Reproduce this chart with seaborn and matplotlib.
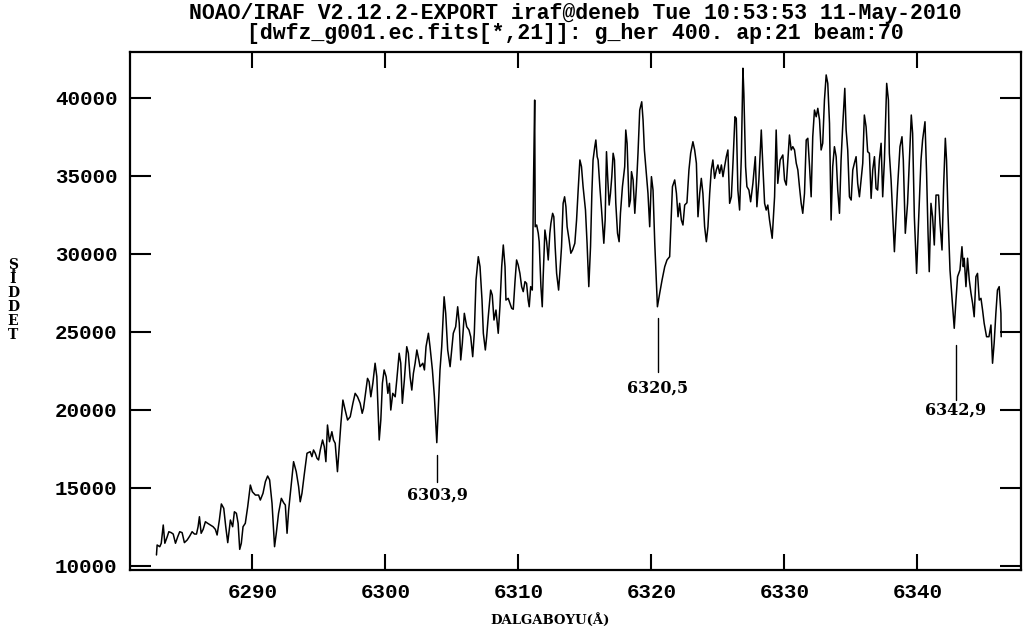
import matplotlib
matplotlib.use("Agg")
import matplotlib.pyplot as plt
import seaborn as sns
import pandas as pd

# Extracted echelle order: wavelength (Angstrom) and counts
wavelength = [
    6282.79, 6282.84, 6283.04, 6283.15, 6283.30, 6283.42, 6283.60, 6283.72, 6283.90, 6284.05,
    6284.22, 6284.39, 6284.54, 6284.72, 6284.89, 6285.10, 6285.29, 6285.47, 6285.65, 6285.80,
    6285.92, 6286.02, 6286.15, 6286.30, 6286.47, 6286.64, 6286.85, 6287.05, 6287.22, 6287.35,
    6287.52, 6287.67, 6287.85, 6288.00, 6288.15, 6288.35, 6288.52, 6288.65, 6288.80, 6288.93,
    6289.05, 6289.17, 6289.30, 6289.47, 6289.65, 6289.85, 6290.00, 6290.23, 6290.47, 6290.60,
    6290.80, 6290.98, 6291.15, 6291.30, 6291.48, 6291.67, 6291.80, 6291.97, 6292.18, 6292.35,
    6292.48, 6292.61, 6292.73, 6292.91, 6293.10, 6293.30, 6293.48, 6293.60, 6293.73, 6293.90,
    6294.11, 6294.35, 6294.48, 6294.60, 6294.73, 6294.86, 6294.98, 6295.11, 6295.28, 6295.41,
    6295.53, 6295.65, 6295.80, 6295.98, 6296.10, 6296.23, 6296.40, 6296.55, 6296.66, 6296.81,
    6296.98, 6297.16, 6297.36, 6297.56, 6297.73, 6297.91, 6298.11, 6298.26, 6298.36, 6298.54,
    6298.66, 6298.78, 6298.91, 6299.06, 6299.23, 6299.36, 6299.54, 6299.66, 6299.78, 6299.91,
    6300.06, 6300.19, 6300.31, 6300.41, 6300.56, 6300.74, 6300.86, 6301.04, 6301.16, 6301.28,
    6301.43, 6301.61, 6301.73, 6301.86, 6301.99, 6302.11, 6302.24, 6302.37, 6302.52, 6302.61,
    6302.82, 6302.94, 6303.06, 6303.24, 6303.36, 6303.54, 6303.69, 6303.87, 6303.99, 6304.11,
    6304.24, 6304.42, 6304.54, 6304.69, 6304.87, 6304.99, 6305.11, 6305.29, 6305.44, 6305.56,
    6305.67, 6305.79, 6305.94, 6306.12, 6306.29, 6306.42, 6306.57, 6306.69, 6306.82, 6306.99,
    6307.12, 6307.27, 6307.37, 6307.52, 6307.62, 6307.74, 6307.92, 6308.04, 6308.17, 6308.32,
    6308.49, 6308.62, 6308.75, 6308.87, 6309.00, 6309.07, 6309.24, 6309.50, 6309.62, 6309.75,
    6309.87, 6309.99, 6310.12, 6310.25, 6310.37, 6310.50, 6310.62, 6310.74, 6310.82, 6310.93,
    6311.05, 6311.15, 6311.23, 6311.27, 6311.38, 6311.50, 6311.57, 6311.70, 6311.80, 6311.87,
    6312.00, 6312.13, 6312.25, 6312.37, 6312.45, 6312.58, 6312.67, 6312.77, 6312.88, 6313.03,
    6313.12, 6313.25, 6313.37, 6313.48, 6313.58, 6313.67, 6313.82, 6313.95, 6314.08, 6314.25,
    6314.38, 6314.50, 6314.63, 6314.75, 6314.87, 6315.05, 6315.17, 6315.30, 6315.43, 6315.53,
    6315.62, 6315.75, 6315.83, 6315.93, 6316.00, 6316.13, 6316.26, 6316.43, 6316.53, 6316.63,
    6316.73, 6316.83, 6316.93, 6317.03, 6317.13, 6317.23, 6317.33, 6317.46, 6317.58, 6317.68,
    6317.83, 6318.00, 6318.08, 6318.18, 6318.33, 6318.43, 6318.51, 6318.63, 6318.76, 6318.88,
    6319.00, 6319.13, 6319.28, 6319.38, 6319.48, 6319.63, 6319.75, 6319.88, 6320.01, 6320.13,
    6320.26, 6320.38, 6320.46, 6320.63, 6320.81, 6321.01, 6321.18, 6321.38, 6321.59, 6321.76,
    6321.89, 6322.01, 6322.13, 6322.26, 6322.38, 6322.51, 6322.68, 6322.83, 6322.96, 6323.13,
    6323.26, 6323.39, 6323.51, 6323.64, 6323.76, 6323.88, 6324.01, 6324.14, 6324.26, 6324.39,
    6324.51, 6324.63, 6324.76, 6324.89, 6325.01, 6325.14, 6325.27, 6325.39, 6325.51, 6325.64,
    6325.76, 6325.89, 6326.02, 6326.14, 6326.29, 6326.39, 6326.51, 6326.64, 6326.77, 6326.89,
    6326.96, 6327.09, 6327.19, 6327.34, 6327.47, 6327.64, 6327.82, 6327.94, 6328.09, 6328.27,
    6328.39, 6328.52, 6328.64, 6328.76, 6328.89, 6329.09, 6329.27, 6329.39, 6329.51, 6329.69,
    6329.89, 6330.02, 6330.15, 6330.27, 6330.39, 6330.52, 6330.64, 6330.77, 6330.90, 6331.02,
    6331.14, 6331.27, 6331.39, 6331.52, 6331.65, 6331.77, 6331.90, 6332.02, 6332.14, 6332.27,
    6332.40, 6332.52, 6332.65, 6332.77, 6332.89, 6333.02, 6333.15, 6333.27, 6333.40, 6333.52,
    6333.64, 6333.77, 6333.90, 6334.02, 6334.15, 6334.27, 6334.39, 6334.55, 6334.65, 6334.77,
    6334.90, 6335.03, 6335.15, 6335.27, 6335.40, 6335.52, 6335.65, 6335.90, 6336.02, 6336.15,
    6336.27, 6336.40, 6336.53, 6336.65, 6336.78, 6336.90, 6337.02, 6337.15, 6337.28, 6337.40,
    6337.53, 6337.70, 6337.83, 6337.90, 6338.03, 6338.15, 6338.28, 6338.40, 6338.52, 6338.70,
    6338.85, 6338.95, 6339.10, 6339.27, 6339.40, 6339.55, 6339.65, 6339.78, 6339.95, 6340.10,
    6340.28, 6340.40, 6340.58, 6340.70, 6340.81, 6340.90, 6341.03, 6341.15, 6341.28, 6341.41,
    6341.60, 6341.71, 6341.86, 6341.98, 6342.11, 6342.20, 6342.31, 6342.46, 6342.61, 6342.78,
    6342.91, 6343.03, 6343.21, 6343.36, 6343.46, 6343.53, 6343.66, 6343.78, 6343.91, 6344.04,
    6344.16, 6344.28, 6344.41, 6344.53, 6344.66, 6344.79, 6344.91, 6345.03, 6345.21, 6345.39,
    6345.54, 6345.66, 6345.78, 6345.91, 6346.03, 6346.16, 6346.29, 6346.31,
]

intensity = [
    10690, 11330, 11220, 11440, 12610, 11440, 11860, 12180, 12120, 12030,
    11440, 11860, 12180, 12120, 11480, 11650, 11900, 12180, 12030, 12030,
    12500, 13140, 12080, 12330, 12820, 12720, 12610, 12500, 12330, 11970,
    12930, 13960, 13680, 12500, 11480, 12930, 12500, 13460, 13360, 12720,
    11050, 11440, 12500, 12720, 13780, 15170, 14740, 14530, 14530, 14210,
    14640, 15390, 15750, 15500, 14000, 11220, 12080, 13360, 14320, 14040,
    13890, 12080, 13570, 15070, 16670, 16030, 15070, 14100, 14640, 15820,
    17210, 17310, 16990, 17420, 17210, 16890, 16780, 17420, 18060, 17630,
    16670, 19020, 17950, 18590, 18060, 17850, 16030, 17850, 19130, 20620,
    19980, 19340, 19550, 20410, 21050, 20830, 20410, 19770, 20090, 21260,
    22010, 21800, 20830, 21690, 22980, 22120, 18060, 19340, 21690, 22550,
    22120, 21050, 21690, 19980, 21050, 20830, 21900, 23620, 22980, 20410,
    21900, 24040, 23620, 22120, 21260, 22330, 22980, 23830, 23190, 22760,
    22980, 22550, 24040, 24900, 24040, 22550, 20830, 17890, 20190, 22550,
    24040, 27240, 26180, 23830, 22760, 23830, 24900, 25320, 26600, 25540,
    23190, 24260, 26180, 25320, 25110, 24680, 23400, 24900, 28320, 29810,
    29170, 27030, 24900, 23830, 24680, 25960, 27670, 27350, 25750, 26390,
    24900, 26650, 29170, 30560, 29170, 27030, 27140, 26500, 26440, 28210,
    29600, 29280, 28740, 27890, 27570, 28210, 28100, 27030, 26600, 27890,
    27670, 35050, 39850, 31730, 31840, 31310, 30770, 27890, 26600, 28530,
    31520, 30770, 29600, 31310, 31950, 32590, 32370, 30450, 28740, 27670,
    28740, 30450, 33230, 33650, 33010, 31730, 30880, 30030, 30240, 30670,
    32160, 34080, 36010, 35580, 34300, 32800, 30670, 27890, 30450, 33870,
    36010, 36860, 37290, 36220, 36010, 34300, 32800, 30670, 32160, 36540,
    34730, 33120, 33870, 34940, 36440, 36010, 33230, 31310, 30770, 32590,
    34300, 35580, 37930, 37080, 33010, 33440, 35260, 34730, 32590, 34300,
    36440, 39210, 39740, 38570, 36650, 35150, 33870, 31730, 34940, 34080,
    30670, 28320, 26600, 27460, 28320, 29170, 29600, 29810, 34300, 34730,
    33870, 32370, 33230, 32160, 31840, 33120, 33270, 35370, 36440, 37180,
    36650, 35800, 32370, 33870, 34830, 33870, 31730, 30770, 31730, 33870,
    35370, 36010, 34830, 35370, 35690, 35150, 35690, 34940, 35580, 36220,
    36650, 33230, 33650, 35800, 38780, 38680, 34080, 32800, 36220, 41890,
    40280, 35580, 34300, 34080, 33330, 34510, 36220, 33010, 34730, 37930,
    35580, 33230, 32800, 33120, 32160, 30990, 33650, 37930, 34510, 36010,
    36330, 34730, 34400, 36010, 37610, 36650, 36860, 36650, 35800, 35370,
    34300, 33230, 32590, 33870, 37290, 37400, 35580, 33650, 37500, 39210,
    38780, 39320, 38570, 36650, 37080, 39850, 41460, 40920, 38360, 32160,
    35580, 36860, 36220, 34080, 32590, 36010, 38140, 40600, 37930, 36650,
    33650, 33440, 35370, 35800, 36220, 34510, 33650, 35800, 38890, 38140,
    36540, 36440, 33550, 35370, 36220, 34190, 34080, 36010, 37080, 33650,
    36010, 40920, 39850, 36440, 34730, 32590, 30130, 32160, 34300, 36860,
    37500, 36010, 31310, 33230, 35800, 38890, 37720, 32370, 28740, 32160,
    36010, 37290, 38460, 35150, 31310, 28850, 33230, 32370, 30560, 33760,
    33760, 31950, 30240, 34300, 37400, 36010, 32590, 28960, 27240, 25220,
    27030, 28530, 28960, 30450, 29170, 29710, 27890, 29710, 28320, 27460,
    26820, 25960, 28530, 28740, 27030, 27140, 26390, 25540, 24680, 24680,
    25430, 22980, 24260, 26180, 27670, 27890, 26180, 24680,
]

# Identified absorption features
line_waves = [6303.9, 6320.5, 6342.9]
line_labels = ["6303,9", "6320,5", "6342,9"]
stem_top = [17100, 25880, 24150]
stem_bottom = [15360, 22420, 20620]
label_level = [14530, 21390, 19980]

x_ticks = [6290, 6300, 6310, 6320, 6330, 6340]
y_ticks = [10000, 15000, 20000, 25000, 30000, 35000, 40000]

title_lines = [
    "NOAO/IRAF V2.12.2-EXPORT iraf@deneb Tue 10:53:53 11-May-2010",
    "[dwfz_g001.ec.fits[*,21]]: g_her 400. ap:21 beam:70",
]
x_label = "DALGABOYU(Å)"
y_label = "ŞİDDET"

sns.set_theme(style="ticks")
plt.rcParams["font.family"] = ["DejaVu Serif", "DejaVu Sans"]

W, H = 1023, 637
fig = plt.figure(figsize=(W / 100, H / 100), dpi=100)
fig.patch.set_facecolor("white")
ax = fig.add_axes([130 / W, 1 - 570 / H, (1021 - 130) / W, (570 - 51.7) / H])
ax.set_facecolor("white")

df = pd.DataFrame({"wavelength": wavelength, "intensity": intensity})
sns.lineplot(data=df, x="wavelength", y="intensity", sort=False, estimator=None,
             color="black", linewidth=1.1, ax=ax)

for wl, lab, top, bot, ly in zip(line_waves, line_labels, stem_top, stem_bottom, label_level):
    ax.plot([wl, wl], [top, bot], color="black", linewidth=1.0)
    ax.text(wl, ly, lab, ha="center", va="center", fontsize=11.5,
            fontweight="bold", family="DejaVu Serif", color="black")

ax.set_xlim(6280.8, 6347.8)
ax.set_ylim(9726, 42950)

mono = {"family": "Liberation Mono", "weight": "bold", "size": 15}
ax.set_xticks(x_ticks)
ax.set_xticklabels([str(v) for v in x_ticks], fontdict=mono)
ax.set_yticks(y_ticks)
ax.set_yticklabels([str(v) for v in y_ticks], fontdict=mono)
ax.tick_params(axis="x", direction="in", length=11.5, width=1.5, top=True, bottom=True, pad=9, colors="black")
ax.tick_params(axis="y", direction="in", length=15, width=1.5, left=True, right=True, pad=9, colors="black")
ax.minorticks_off()
for s in ax.spines.values():
    s.set_visible(True)
    s.set_linewidth(1.6)
    s.set_color("black")
ax.set_xlabel("")
ax.set_ylabel("")

cx = (130 + 1021) / 2 / W
fig.text(cx, 1 - 14 / H, title_lines[0], ha="center", va="center", family="Liberation Mono",
         fontweight="bold", fontsize=15.5, color="black")
fig.text(cx, 1 - 33 / H, title_lines[1], ha="center", va="center", family="Liberation Mono",
         fontweight="bold", fontsize=15.5, color="black")

fig.text(550 / W, 1 - 620 / H, x_label, ha="center", va="center", family="DejaVu Serif",
         fontweight="bold", fontsize=9.5, color="black")
fig.text(13 / W, 1 - 300 / H, "\n".join(y_label), ha="center", va="center", family="DejaVu Serif",
         fontweight="bold", fontsize=10, linespacing=0.98, color="black")

fig.savefig("out.png", dpi=100, facecolor="white")
